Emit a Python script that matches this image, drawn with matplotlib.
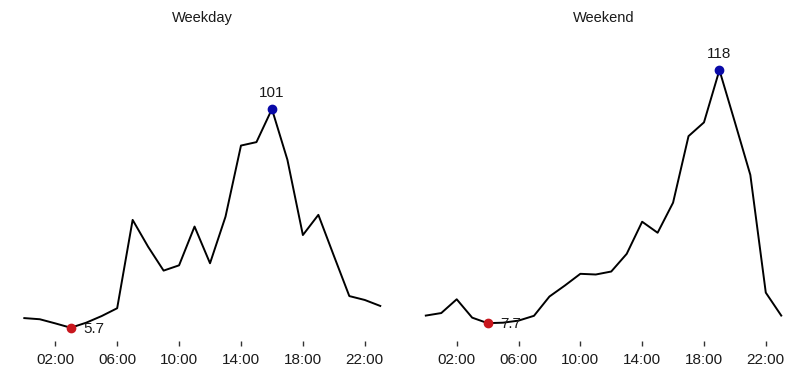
#!/usr/bin/env python3

import matplotlib

matplotlib.use("Agg")
import matplotlib.pyplot as plt

plt.rcParams["font.family"] = ["Liberation Sans", "DejaVu Sans"]

HOURS = list(range(24))
TICK_HOURS = [2, 6, 10, 14, 18, 22]
TICK_LABELS = [f"{h:02d}:00" for h in TICK_HOURS]

PANEL_TITLES = ["Weekday", "Weekend"]

WEEKDAY = [9.9, 9.4, 7.6, 5.7, 7.9, 10.8, 14.2, 52.7, 41.0, 30.6, 32.9, 49.8,
           33.8, 54.1, 85.1, 86.6, 101, 78.9, 46.1, 54.9, 37.1, 19.5, 17.8, 15.2]
WEEKEND = [11.0, 12.1, 18.1, 10.1, 7.7, 7.9, 8.8, 10.9, 19.3, 24.1, 29.2, 28.9,
           30.2, 37.9, 51.9, 47.1, 60.2, 89.2, 95.2, 118, 95.3, 72.3, 21.0, 11.0]

LINE_COLOR = "black"
MIN_COLOR = "#c8161d"
MAX_COLOR = "#0a0aa8"


def fmt_value(v):
    return f"{v:g}" if v >= 10 else f"{v:.1f}"


def draw_panel(ax, values, title, y_lo, y_hi):
    ax.plot(HOURS, values, color=LINE_COLOR, linewidth=1.4, zorder=2)

    i_min = values.index(min(values))
    i_max = values.index(max(values))
    ax.plot(HOURS[i_min], values[i_min], "o", color=MIN_COLOR, markersize=6, zorder=3)
    ax.plot(HOURS[i_max], values[i_max], "o", color=MAX_COLOR, markersize=6, zorder=3)
    ax.annotate(fmt_value(values[i_min]), (HOURS[i_min], values[i_min]),
                xytext=(8.8, -0.8), textcoords="offset points",
                ha="left", va="center", fontsize=11, color="#1a1a1a")
    ax.annotate(fmt_value(values[i_max]), (HOURS[i_max], values[i_max]),
                xytext=(0, 11.5), textcoords="offset points",
                ha="center", va="center", fontsize=11, color="#1a1a1a")

    pad_x = 0.05 * (HOURS[-1] - HOURS[0])
    ax.set_xlim(HOURS[0] - pad_x, HOURS[-1] + pad_x)
    ax.set_ylim(y_lo, y_hi)
    ax.set_xticks(TICK_HOURS)
    ax.set_xticklabels(TICK_LABELS)
    ax.set_yticks([])
    ax.tick_params(axis="x", length=3.6, width=1.0, color="#333333",
                   pad=5, labelsize=11, labelcolor="#1a1a1a")
    for spine in ax.spines.values():
        spine.set_visible(False)
    # title baseline about 35 px above the panel top
    ax.set_title(title, fontsize=10.5, color="#1a1a1a", pad=25)


def main():
    fig = plt.figure(figsize=(8.04, 3.76), dpi=100)
    lo = min(WEEKDAY + WEEKEND)
    hi = max(WEEKDAY + WEEKEND)
    pad = 0.05 * (hi - lo)

    ax_left = fig.add_axes([0.0081, 0.0941, 0.487, 0.7538])
    ax_right = fig.add_axes([0.5075, 0.0941, 0.4863, 0.7538])
    draw_panel(ax_left, WEEKDAY, PANEL_TITLES[0], lo - pad, hi + pad)
    draw_panel(ax_right, WEEKEND, PANEL_TITLES[1], lo - pad, hi + pad)

    fig.savefig("out.png", dpi=100)
    plt.close(fig)


if __name__ == "__main__":
    main()
